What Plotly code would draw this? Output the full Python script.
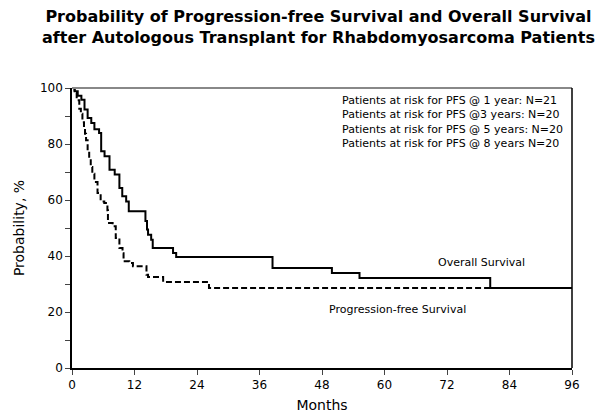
import plotly.graph_objects as go

# Kaplan-Meier step curves (months, %)
os_months = [0, 0.5, 1.1, 1.8, 2.4, 3.0, 3.7, 4.3, 5.2, 5.6, 6.25, 7.2, 8.2, 9.1, 9.65,
             10.4, 10.9, 14.1, 14.4, 14.6, 15.2, 15.5, 19.4, 20.0, 38.5, 49.9, 55.2, 80.3, 96]
os_values = [100, 98.8, 97.2, 95.8, 92.3, 89.3, 87.5, 85.3, 83.9, 77.4, 75.6, 70.8, 69.1, 64.3, 61.3,
             59.5, 56.0, 52.5, 49.5, 47.6, 45.8, 42.9, 41.1, 39.6, 35.7, 33.9, 32.1, 28.6, 28.6]

pfs_months = [0, 0.5, 0.9, 1.4, 1.7, 2.0, 2.3, 2.5, 2.7, 3.0, 3.3, 3.6, 3.9, 4.3, 4.9, 5.5,
              6.2, 6.8, 6.9, 7.8, 8.4, 9.1, 9.7, 9.9, 11.0, 11.7, 14.3, 14.6, 17.5, 26.3, 96]
pfs_values = [100, 98.2, 95.6, 92.6, 90.8, 87.8, 85.5, 83.7, 81.3, 77.7, 74.8, 71.8, 69.4, 66.4, 62.5, 59.5,
              58.9, 56.3, 51.8, 50.6, 46.4, 42.9, 41.0, 38.1, 37.5, 36.3, 33.3, 32.5, 30.7, 28.6, 28.6]

x_ticks = [0, 12, 24, 36, 48, 60, 72, 84, 96]
y_ticks = [0, 10, 20, 30, 40, 50, 60, 70, 80, 90, 100]
y_labels = ["0", "", "20", "", "40", "", "60", "", "80", "", "100"]

risk_lines = [
    "Patients at risk for PFS @ 1 year: N=21",
    "Patients at risk for PFS @3 years: N=20",
    "Patients at risk for PFS @ 5 years: N=20",
    "Patients at risk for PFS @ 8 years N=20",
]

title_lines = [
    "Probability of Progression-free Survival and Overall Survival",
    "after Autologous Transplant for Rhabdomyosarcoma Patients",
]

font = "DejaVu Sans, Verdana, sans-serif"

fig = go.Figure()
fig.add_trace(go.Scatter(x=pfs_months, y=pfs_values, mode="lines", line_shape="hv",
                         line=dict(color="black", width=2, dash="6px,3px"),
                         name="Progression-free Survival"))
fig.add_trace(go.Scatter(x=os_months, y=os_values, mode="lines", line_shape="hv",
                         line=dict(color="black", width=2), name="Overall Survival"))

fig.add_annotation(x=78.6, y=37.6, text="Overall Survival", showarrow=False,
                   font=dict(size=11, color="black"))
fig.add_annotation(x=62.4, y=20.8, text="Progression-free Survival", showarrow=False,
                   font=dict(size=11, color="black"))
fig.add_annotation(x=0.536, y=0.985, xref="paper", yref="paper", xanchor="left", yanchor="top",
                   align="left", text="<br>".join(risk_lines), showarrow=False,
                   font=dict(size=11, color="black"))
fig.add_annotation(x=0.492, y=1.295, xref="paper", yref="paper", xanchor="center", yanchor="top",
                   align="center", text="<b>" + "<br>".join(title_lines) + "</b>", showarrow=False,
                   font=dict(size=16, color="black"))

# frame: gray top, black right
fig.add_shape(type="line", xref="paper", yref="paper", x0=0, x1=1, y0=1, y1=1,
              line=dict(color="#888888", width=2))
fig.add_shape(type="line", xref="paper", yref="paper", x0=1, x1=1, y0=0, y1=1,
              line=dict(color="black", width=1.5))

fig.update_layout(
    width=595, height=409,
    margin=dict(l=64, r=31, t=80, b=49),
    paper_bgcolor="white", plot_bgcolor="white",
    showlegend=False,
    font=dict(family=font, color="black"),
)
fig.update_xaxes(range=[0, 96], tickvals=x_ticks, ticks="outside", ticklen=5, automargin=False,
                 showline=True, linecolor="black", linewidth=1.5, showgrid=False, zeroline=False,
                 tickfont=dict(size=12), title=dict(text="Months", font=dict(size=14), standoff=9))
fig.update_yaxes(range=[0, 100], tickvals=y_ticks, ticktext=y_labels, ticks="outside", ticklen=5,
                 automargin=False,
                 showline=True, linecolor="black", linewidth=1.5, showgrid=False, zeroline=False,
                 tickfont=dict(size=12), title=dict(text="Probability, %", font=dict(size=14), standoff=12))

fig.write_html("out.html")
